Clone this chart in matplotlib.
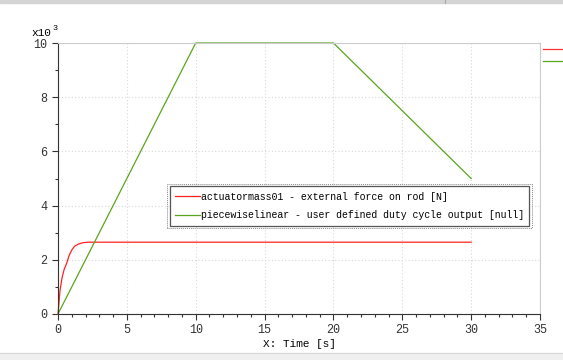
import matplotlib
matplotlib.use("Agg")
import matplotlib.pyplot as plt
from matplotlib.ticker import MultipleLocator, FuncFormatter
from matplotlib.lines import Line2D
from matplotlib.patches import Rectangle

# data (y in raw units, shown as x10^3)
force_t = [0, 0.15, 0.3, 0.45, 0.63, 0.8, 1.0, 1.2, 1.48, 1.8, 2.2, 3.0, 10, 20, 30]
force_v = [0, 890, 1350, 1650, 1870, 2150, 2360, 2500, 2580, 2630, 2650, 2650, 2650, 2650, 2650]
duty_t = [0, 10, 20, 30]
duty_v = [0, 10000, 10000, 5000]

labels = ["actuatormass01 - external force on rod [N]",
          "piecewiselinear - user defined duty cycle output [null]"]
xlabel = "X: Time [s]"

mono = ["Liberation Mono", "DejaVu Sans Mono"]

fig = plt.figure(figsize=(5.63, 3.6), dpi=100)
ax = fig.add_axes([58 / 563, 1 - 314 / 360, 482 / 563, 271 / 360])

ax.plot(force_t, force_v, color="#ff2020", lw=0.9, clip_on=False)
ax.plot(duty_t, duty_v, color="#5aa51e", lw=0.9, clip_on=False)

ax.set_xlim(0, 35)
ax.set_ylim(0, 10000)
ax.xaxis.set_major_locator(MultipleLocator(5))
ax.xaxis.set_minor_locator(MultipleLocator(1))
ax.yaxis.set_major_locator(MultipleLocator(2000))
ax.yaxis.set_minor_locator(MultipleLocator(1000))
ax.yaxis.set_major_formatter(FuncFormatter(lambda v, p: "%d" % round(v / 1000)))

ax.grid(True, which="major", color="#d8d8d8", ls=(0, (1, 2)), lw=0.8)
for s in ["top", "right"]:
    ax.spines[s].set_color("#cccccc")
for s in ["left", "bottom"]:
    ax.spines[s].set_color("#333333")
ax.tick_params(which="major", length=4, width=0.8, labelsize=8.5, colors="#333333")
ax.tick_params(which="minor", length=2.5, width=0.8, colors="#333333")
for lab in ax.get_xticklabels() + ax.get_yticklabels():
    lab.set_family(mono)

ax.set_xlabel(xlabel, fontsize=8, family=mono, labelpad=2)
fig.text(31 / 563, 1 - 36 / 360, "x10", fontsize=8, family=mono)
fig.text(52 / 563, 1 - 30 / 360, "3", fontsize=6, family=mono)

leg = ax.legend(labels, loc="upper left", bbox_to_anchor=(0.232, 0.471),
                prop={"family": mono, "size": 7.1}, handlelength=2.5,
                handletextpad=0.1, borderpad=0.55, labelspacing=0.85,
                fancybox=False, edgecolor="#555555", framealpha=1,
                borderaxespad=0)
leg.get_frame().set_linewidth(0.9)

# dotted outer border of the legend
fig.canvas.draw()
bb = leg.get_window_extent().transformed(fig.transFigure.inverted())
px, py = 2.5 / 563, 2.5 / 360
fig.add_artist(Rectangle((bb.x0 - px, bb.y0 - py), bb.width + 2 * px, bb.height + 2 * py,
                         fill=False, ec="#888888", lw=0.7, ls=(0, (1, 1)),
                         transform=fig.transFigure))

# small line keys at the right edge
fig.add_artist(Line2D([543 / 563, 1], [1 - 49 / 360] * 2, color="#ff3030", lw=0.9))
fig.add_artist(Line2D([543 / 563, 1], [1 - 61 / 360] * 2, color="#5aa51e", lw=0.9))

# window chrome
fig.add_artist(Rectangle((0, 1 - 3 / 360), 1, 3 / 360, color="#d4d4d4", transform=fig.transFigure))
fig.add_artist(Line2D([445 / 563] * 2, [1 - 3 / 360, 1], color="#aaaaaa", lw=0.8))
fig.add_artist(Rectangle((0, 0), 1, 7 / 360, color="#efefef", transform=fig.transFigure))
fig.add_artist(Line2D([0, 1], [7 / 360] * 2, color="#d8d8d8", lw=0.8))

fig.savefig("out.png", dpi=100)
